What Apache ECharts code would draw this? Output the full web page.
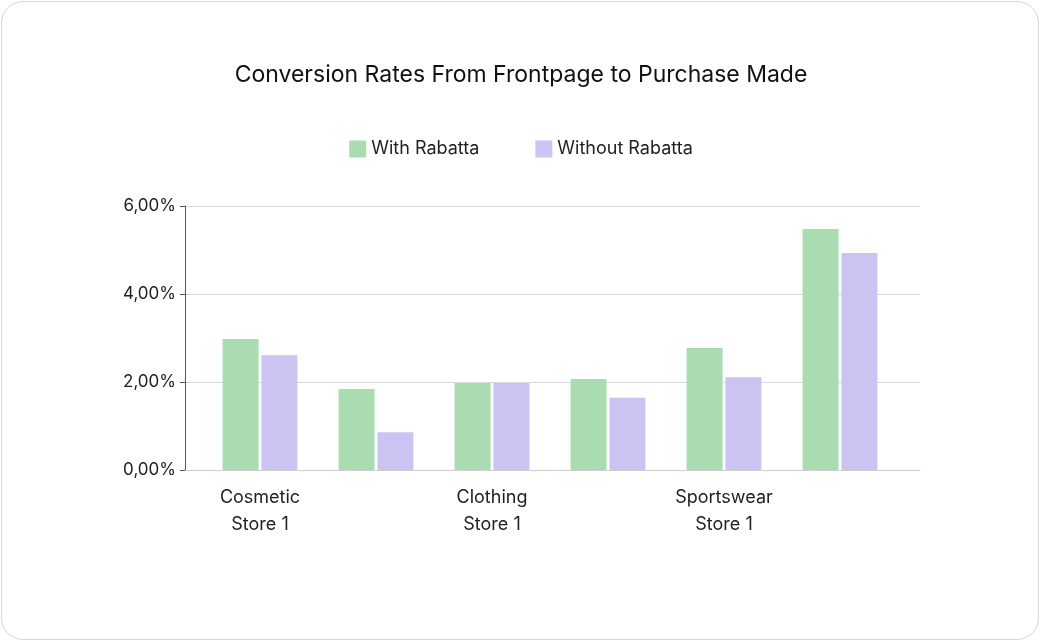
<!DOCTYPE html>
<html>
<head>
<meta charset="utf-8">
<title>Conversion Rates</title>
<script src="https://cdn.jsdelivr.net/npm/echarts@6/dist/echarts.min.js"></script>
<style>
  html, body { margin: 0; padding: 0; background: #fff; }
  #card { position: absolute; left: 1px; top: 1px; width: 1038px; height: 639px;
          border: 1.5px solid #d6d6d6; border-radius: 22px; box-sizing: border-box; }
  #main { position: absolute; left: 0; top: 0; width: 1042px; height: 643px; }
</style>
</head>
<body>
<div id="card"></div>
<div id="main"></div>
<script>
var categories = ['Cosmetic\nStore 1', 'Jewelry\nStore 1', 'Clothing\nStore 1', 'Clothing\nStore 2', 'Sportswear\nStore 1', 'Clothing\nStore 3'];
var withRabatta = [2.98, 1.84, 1.98, 2.07, 2.77, 5.48];
var withoutRabatta = [2.61, 0.86, 1.98, 1.64, 2.11, 4.93];

var chart = echarts.init(document.getElementById('main'));
chart.setOption({
  textStyle: { fontFamily: 'Inter', color: '#222' },
  title: {
    text: 'Conversion Rates From Frontpage to Purchase Made',
    left: 'center', top: 59,
    textStyle: { fontSize: 23, fontWeight: 'normal', color: '#111', fontFamily: 'Inter' }
  },
  legend: {
    top: 135, left: 'center', itemGap: 56, itemWidth: 17, itemHeight: 17,
    icon: 'rect',
    textStyle: { fontSize: 18, color: '#222', fontFamily: 'Inter' }
  },
  grid: [
    { left: 202, right: 144, top: 206, bottom: 173 },
    { left: 185, right: 122, top: 206, bottom: 173 }
  ],
  xAxis: [{
    type: 'category', data: categories, gridIndex: 0,
    axisTick: { show: false },
    axisLine: { show: false },
    axisLabel: { fontSize: 18, color: '#222', lineHeight: 27, margin: 14 }
  }, {
    type: 'value', gridIndex: 1, min: 0, max: 1,
    axisLabel: { show: false }, axisTick: { show: false }, splitLine: { show: false },
    axisLine: { show: true, onZero: false, lineStyle: { color: '#cfcfcf' } }
  }],
  yAxis: [{
    type: 'value', gridIndex: 0, min: 0, max: 6, interval: 2,
    axisLabel: { show: false }, splitLine: { show: false }
  }, {
    type: 'value', gridIndex: 1, min: 0, max: 6, interval: 2,
    axisLabel: {
      fontSize: 17, color: '#222', margin: 9, padding: [0, 0, 12, 0],
      formatter: function (v) { return v.toFixed(2).replace('.', ',') + '%'; }
    },
    splitLine: { lineStyle: { color: '#d9d9d9' } }
  }],
  series: [
    { name: 'With Rabatta', type: 'bar', data: withRabatta, barWidth: 36, barGap: '8%',
      itemStyle: { color: '#a9dcb0' } },
    { name: 'Without Rabatta', type: 'bar', data: withoutRabatta, barWidth: 36,
      itemStyle: { color: '#cdc3f3' } }
  ]
});
</script>
</body>
</html>
